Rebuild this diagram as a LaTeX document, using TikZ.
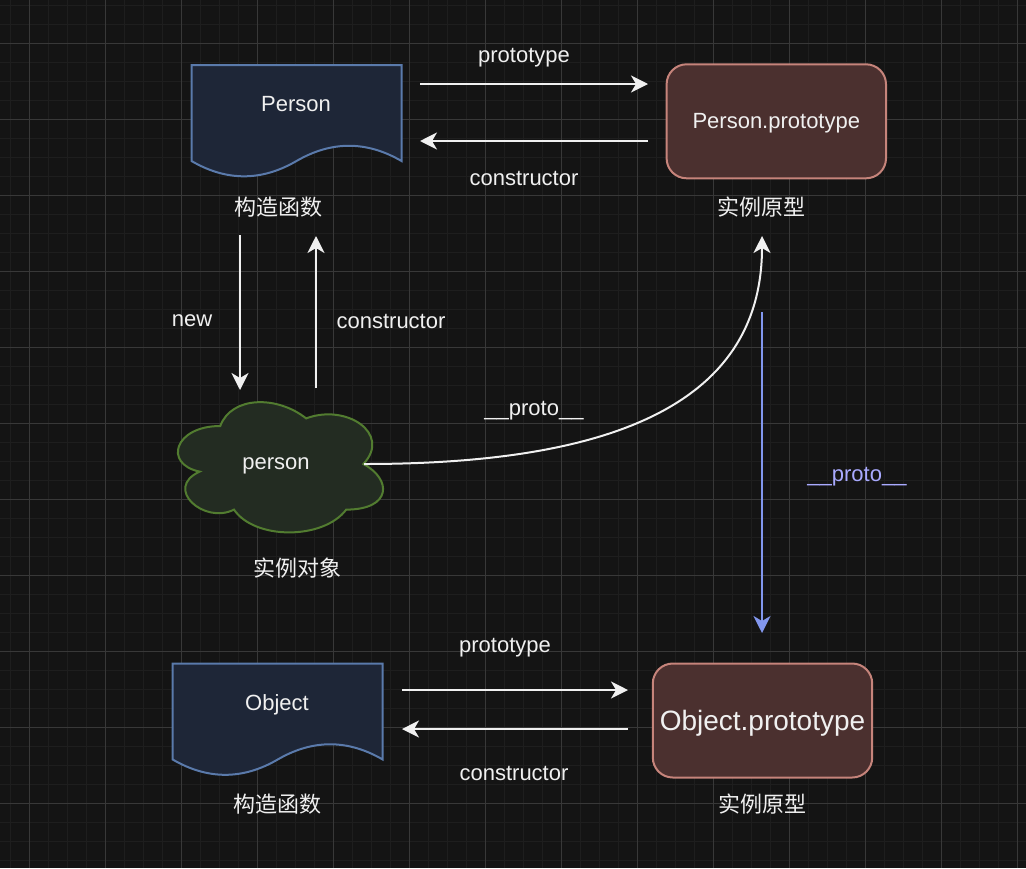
\documentclass[tikz,border=0pt]{standalone}
\usepackage{fontspec}
\setmainfont{Liberation Sans}
\newfontfamily\cjk{Noto Sans CJK SC}
\usetikzlibrary{arrows.meta}
\definecolor{bg}{HTML}{141414}
\definecolor{gridminor}{HTML}{1E1E1E}
\definecolor{gridmajor}{HTML}{383838}
\definecolor{docfill}{HTML}{1E2637}
\definecolor{docline}{HTML}{5A7AAB}
\definecolor{protofill}{HTML}{4B302F}
\definecolor{protoline}{HTML}{C6847B}
\definecolor{cloudfill}{HTML}{232C22}
\definecolor{cloudline}{HTML}{527C30}
\definecolor{ink}{HTML}{F0F0F0}
\definecolor{protoblue}{HTML}{8297EE}
\definecolor{protolabel}{HTML}{A9AAFF}

\tikzset{
  txt/.style={text=ink, font=\fontsize{11}{13}\selectfont, inner sep=1pt, text depth=0pt},
  cjklabel/.style={text=ink, font=\cjk\fontsize{11}{13}\selectfont, inner sep=1pt},
  protobox/.style={draw=protoline, fill=protofill, line width=1pt, rounded corners=10pt,
    minimum width=109.7pt, minimum height=57pt, text=ink, text depth=0pt,
    font=\fontsize{11}{13}\selectfont},
  link/.style={draw=ink, line width=1pt, -{Stealth[length=8.5pt,width=8.5pt,inset=2.5pt]}},
  docshape/.pic={
    \filldraw[draw=docline, fill=docfill, line width=1pt]
      (0,0) -- (210,0) -- (210,96) .. controls (175,75.7) and (140,75.7) .. (105,96)
      .. controls (70,116.4) and (35,116.4) .. (0,96) -- cycle;
  }
}

\begin{document}
\begin{tikzpicture}[x=0.5pt, y=-0.5pt]
\useasboundingbox (0,0) rectangle (1026,868);
\fill[bg] (0,0) rectangle (1026,868);

% grid
\foreach \x in {10.3,29.3,...,1026} \draw[gridminor, line width=0.75pt] (\x,0) -- (\x,868);
\foreach \y in {5.3,24.3,...,868} \draw[gridminor, line width=0.75pt] (0,\y) -- (1026,\y);
\foreach \x in {29.3,105.3,...,1026} \draw[gridmajor, line width=0.5pt] (\x,0) -- (\x,868);
\foreach \y in {43.3,119.3,...,868} \draw[gridmajor, line width=0.5pt] (0,\y) -- (1026,\y);

% constructors
\pic at (191.5,65) {docshape};
\pic at (172.7,663.5) {docshape};
\node[txt] (Person) at (296,104) {Person};
\node[txt] (Object) at (277,703) {Object};
\node[cjklabel] (PersonCtor) at (278,207) {构造函数};
\node[cjklabel] (ObjectCtor) at (277,804) {构造函数};

% prototypes
\node[protobox] (PersonProto) at (776.3,121.3) {Person.prototype};
\node[protobox, font=\fontsize{14}{17}\selectfont] (ObjectProto) at (762.5,720.5) {Object.prototype};
\node[cjklabel] (PersonProtoLbl) at (761,207) {实例原型};
\node[cjklabel] (ObjectProtoLbl) at (762,804) {实例原型};

% instance
\begin{scope}[shift={(163,388)}, xscale=2.29, yscale=1.52]
\filldraw[draw=cloudline, fill=cloudfill, line width=1pt]
  (25,25) .. controls (5,25) and (0,50) .. (16,55)
  .. controls (0,66) and (18,90) .. (31,80)
  .. controls (40,100) and (70,100) .. (80,80)
  .. controls (100,80) and (100,60) .. (87.5,50)
  .. controls (100,30) and (80,10) .. (62.5,20)
  .. controls (50,5) and (30,5) .. (25,25) -- cycle;
\end{scope}
\node[txt] (person) at (276,464) {person};
\node[cjklabel] (personLbl) at (297,568) {实例对象};

% arrow ends
\coordinate (ctorTop) at (420,84);
\coordinate (protoTop) at (648,84);
\coordinate (protoTop2) at (648,141);
\coordinate (ctorTop2) at (420,141);
\coordinate (newFrom) at (240,235);
\coordinate (newTo) at (240,390);
\coordinate (backFrom) at (316,388);
\coordinate (backTo) at (316,236);
\coordinate (cloudEdge) at (364,464);
\coordinate (protoIn) at (762,236);
\coordinate (chainFrom) at (762,312);
\coordinate (chainTo) at (762,633);
\coordinate (ctorBot) at (402,690);
\coordinate (protoBot) at (628,690);
\coordinate (protoBot2) at (628,729);
\coordinate (ctorBot2) at (402,729);

% links
\draw[link] (ctorTop) -- (protoTop);
\draw[link] (protoTop2) -- (ctorTop2);
\draw[link] (newFrom) -- (newTo);
\draw[link] (backFrom) -- (backTo);
\draw[link] (cloudEdge) .. controls (600,464) and (762,410) .. (protoIn);
\draw[link, draw=protoblue, -{Stealth[length=8.5pt,width=8.5pt,inset=2.5pt,fill=protoblue]}] (chainFrom) -- (chainTo);
\draw[link] (ctorBot) -- (protoBot);
\draw[link] (protoBot2) -- (ctorBot2);

% link labels
\node[txt] (lblProtoTop) at (524,55) {prototype};
\node[txt] (lblCtorTop) at (524,178) {constructor};
\node[txt] (lblNew) at (192,321) {new};
\node[txt] (lblCtorMid) at (391,321) {constructor};
\node[txt] (lblProto) at (534,408) {\_\_proto\_\_};
\node[txt, text=protolabel] (lblChain) at (857,474) {\_\_proto\_\_};
\node[txt] (lblProtoBot) at (505,645) {prototype};
\node[txt] (lblCtorBot) at (514,773) {constructor};
\end{tikzpicture}
\end{document}
